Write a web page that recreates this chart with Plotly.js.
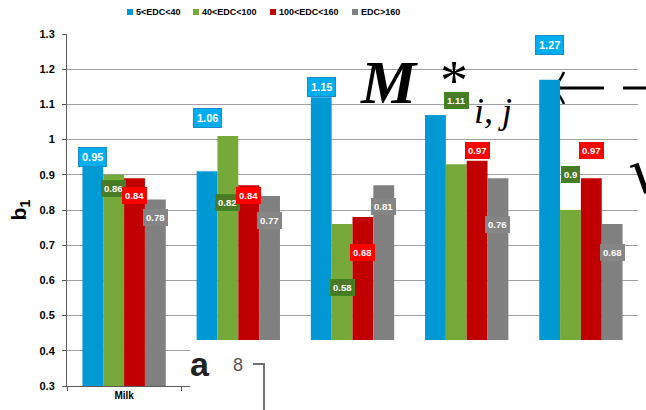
<!DOCTYPE html>
<html>
<head>
<meta charset="utf-8">
<script src="https://cdn.plot.ly/plotly-3.0.1.min.js"></script>
<style>html,body{margin:0;padding:0;background:#fff;}#chart{width:646px;height:410px;}</style>
</head>
<body>
<div id="chart"></div>
<script>
// ---- data ----
const categories = ["Milk", "Group 2", "Group 3", "Group 4", "Group 5"];
const tickLabels = ["Milk", "", "", "", ""];
const seriesNames = ["5<EDC<40", "40<EDC<100", "100<EDC<160", "EDC>160"];
// bar heights (b1)
const edc5to40    = [0.94, 0.91, 1.12, 1.07, 1.17];
const edc40to100  = [0.90, 1.01, 0.76, 0.93, 0.80];
const edc100to160 = [0.89, 0.87, 0.78, 0.94, 0.89];
const edcOver160  = [0.83, 0.84, 0.87, 0.89, 0.76];
// data labels shown in boxes
const lbl5to40    = [0.95, 1.06, 1.15, 1.31, 1.27];
const lbl40to100  = [0.86, 0.82, 0.58, 1.11, 0.9];
const lbl100to160 = [0.84, 0.84, 0.68, 0.97, 0.97];
const lblOver160  = [0.78, 0.77, 0.81, 0.76, 0.68];
const yTicks = [0.3, 0.4, 0.5, 0.6, 0.7, 0.8, 0.9, 1, 1.1, 1.2, 1.3];

// ---- styles ----
const barColors = ["#0099D4", "#77A83A", "#C00000", "#808080"];
const labelBg   = ["#00AEEF", "#4A7A25", "#FF0000", "#858585"];
const labelBd   = ["#1A8ACB", "#3C8A1E", "#FF0000", "#858585"];
const labelSize = [11, 9.5, 9.5, 9.5];
const labelPad  = [3, 2, 2, 2];

const values = [edc5to40, edc40to100, edc100to160, edcOver160];
const labels = [lbl5to40, lbl40to100, lbl100to160, lblOver160];

const L = 67, T = 34, W = 571, H = 352, R = 646 - L - W, B = 410 - T - H;
const px = x => (x - L) / W;
const py = y => (T + H - y) / H;

const bargap = 0.27;
const bw = (1 - bargap) / 4;
const offs = [0, 1, 2, 3].map(k => -(1 - bargap) / 2 + bw * (k + 0.5));

const traces = values.map((v, k) => ({
  type: "bar",
  name: seriesNames[k],
  x: categories,
  y: v,
  marker: {color: barColors[k], line: {width: 0}},
  showlegend: false,
  hoverinfo: "skip"
}));

const annotations = [];
labels.forEach((arr, k) => {
  arr.forEach((v, i) => {
    annotations.push({
      xref: "x", yref: "y", x: i + offs[k], y: v,
      text: "<b>" + String(v) + "</b>",
      showarrow: false,
      font: {family: "Liberation Sans, Arial, sans-serif", size: labelSize[k], color: "#FFFFFF"},
      bgcolor: labelBg[k], bordercolor: labelBd[k], borderwidth: 1, borderpad: labelPad[k],
      xanchor: "center", yanchor: "middle"
    });
  });
});

// custom legend
const legendSquareX = [127, 193, 270, 352];
const shapes = [];
seriesNames.forEach((n, k) => {
  shapes.push({type: "rect", xref: "paper", yref: "paper",
    x0: px(legendSquareX[k]), x1: px(legendSquareX[k] + 6), y0: py(15), y1: py(9),
    fillcolor: barColors[k], line: {width: 0}});
  annotations.push({xref: "paper", yref: "paper", x: px(legendSquareX[k] + 7), y: py(12),
    xanchor: "left", yanchor: "middle", showarrow: false,
    text: "<b>" + n.replace(/</g, "&lt;").replace(/>/g, "&gt;") + "</b>",
    font: {family: "Liberation Sans, Arial, sans-serif", size: 9, color: "#000"}});
});

// overlay pasted into the picture
shapes.push({type: "rect", xref: "paper", yref: "paper", layer: "above",
  x0: px(190), x1: px(646), y0: py(410), y1: py(340), fillcolor: "#FFFFFF", line: {width: 0}});
shapes.push({type: "path", xref: "paper", yref: "paper", layer: "above",
  path: `M ${px(253)} ${py(364)} L ${px(264)} ${py(364)} L ${px(264)} ${py(412)}`,
  line: {color: "#707070", width: 2}});
// long left arrow (lies under the bars)
shapes.push({type: "path", xref: "paper", yref: "paper", layer: "below",
  path: `M ${px(553)} ${py(88)} L ${px(604)} ${py(88)}`,
  line: {color: "#000", width: 3}});
shapes.push({type: "path", xref: "paper", yref: "paper", layer: "below",
  path: `M ${px(564)} ${py(72)} Q ${px(559)} ${py(84)} ${px(551)} ${py(88)} Q ${px(559)} ${py(92)} ${px(564)} ${py(104)}`,
  line: {color: "#000", width: 2.5}});
shapes.push({type: "path", xref: "paper", yref: "paper", layer: "above",
  path: `M ${px(623)} ${py(88)} L ${px(647)} ${py(88)}`,
  line: {color: "#000", width: 3}});

const ov = (x, y, text, fam, size, color, xa) => annotations.push({
  xref: "paper", yref: "paper", x: px(x), y: py(y), text: text, showarrow: false,
  xanchor: xa || "center", yanchor: "middle",
  font: {family: fam, size: size, color: color || "#000"}});

ov(389, 82, "<b><i>M</i></b>", "Liberation Serif, serif", 62);
ov(454, 81, "*", "Liberation Serif, serif", 56);
ov(493, 111, "<i>i, j</i>", "Liberation Serif, serif", 36);
ov(626, 170, "√", "DejaVu Serif, serif", 62, "#000", "left");
ov(200, 364, "<b>a</b>", "Liberation Sans, Arial, sans-serif", 34, "#222");
ov(238, 365, "8", "Liberation Sans, Arial, sans-serif", 18, "#555");

const layout = {
  width: 646, height: 410,
  margin: {l: L, r: R, t: T, b: B, pad: 0},
  paper_bgcolor: "#FFFFFF", plot_bgcolor: "#FFFFFF",
  barmode: "group", bargap: bargap, bargroupgap: 0,
  showlegend: false,
  font: {family: "Liberation Sans, Arial, sans-serif", color: "#000"},
  xaxis: {
    type: "category", tickmode: "array", tickvals: categories, ticktext: tickLabels,
    showline: true, linecolor: "#595959", linewidth: 1,
    ticks: "outside", tickson: "boundaries", ticklen: 4, tickcolor: "#595959",
    showgrid: false, zeroline: false,
    tickfont: {size: 10, color: "#000", weight: "bold"}
  },
  yaxis: {
    range: [0.3, 1.3], tickmode: "array", tickvals: yTicks,
    showline: true, linecolor: "#595959", linewidth: 1,
    ticks: "outside", ticklen: 4, tickcolor: "#595959",
    showgrid: true, gridcolor: "#A0A0A0", gridwidth: 1, zeroline: false,
    tickfont: {size: 11, color: "#000", weight: "bold"},
    ticklabelstandoff: 5,
    title: {text: "<b>b<sub>1</sub></b>", font: {size: 21, color: "#000"}, standoff: 7}
  },
  shapes: shapes,
  annotations: annotations
};

Plotly.newPlot("chart", traces, layout, {displayModeBar: false, staticPlot: true});
</script>
</body>
</html>
